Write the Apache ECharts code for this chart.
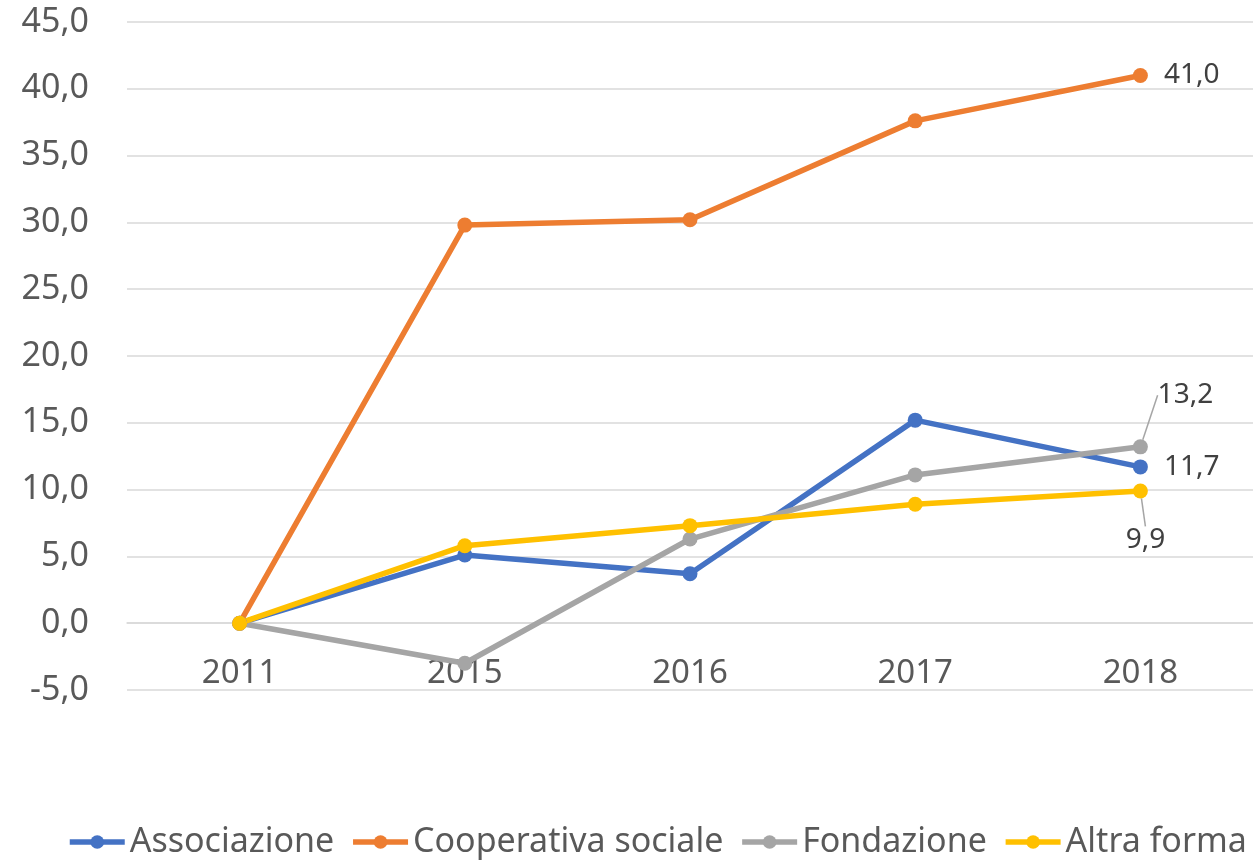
<!DOCTYPE html>
<html>
<head>
<meta charset="utf-8">
<script src="https://cdn.jsdelivr.net/npm/echarts@6/dist/echarts.min.js"></script>
<style>
  html, body { margin: 0; padding: 0; background: #fff; }
  #chart { width: 1253px; height: 862px; }
</style>
</head>
<body>
<div id="chart"></div>
<script>
// anni sull'asse x
const anni = ["2011", "2015", "2016", "2017", "2018"];
// valori per forma giuridica
const associazione = [0, 5.1, 3.7, 15.2, 11.7];
const cooperativa = [0, 29.8, 30.2, 37.6, 41.0];
const fondazione = [0, -3.0, 6.3, 11.1, 13.2];
const altraForma = [0, 5.8, 7.3, 8.9, 9.9];

const fmt = v => Number(v).toFixed(1).replace(".", ",");

// solo l'ultimo punto ha l'etichetta
function conEtichetta(arr, label) {
  return arr.map((v, i) => {
    if (i !== arr.length - 1) return v;
    return { value: v, label: Object.assign({ show: true }, label) };
  });
}

function serie(nome, colore, dati, label, layout, guida) {
  const s = {
    name: nome,
    type: "line",
    data: conEtichetta(dati, label),
    symbol: "circle",
    symbolSize: 15,
    lineStyle: { width: 5.5, color: colore },
    itemStyle: { color: colore },
    label: {
      show: false,
      color: "#404040",
      fontSize: 28,
      fontFamily: "Noto Sans",
      formatter: p => fmt(p.value)
    },
    emphasis: { disabled: true }
  };
  if (layout) s.labelLayout = layout;
  if (guida) s.labelLine = { show: true, lineStyle: { color: "#a5a5a5", width: 1.5 } };
  return s;
}

const chart = echarts.init(document.getElementById("chart"));
const option = {
  animation: false,
  textStyle: { fontFamily: "Noto Sans" },
  grid: { left: 127, right: 0, top: 22, bottom: 172 },
  legend: {
    top: 820,
    left: 62,
    width: 1191,
    itemWidth: 55,
    itemHeight: 17,
    itemGap: 16,
    lineStyle: { width: 5.5 },
    textStyle: { color: "#595959", fontSize: 34, fontFamily: "Noto Sans" },
    data: ["Associazione", "Cooperativa sociale", "Fondazione", "Altra forma"]
  },
  xAxis: {
    type: "category",
    data: anni,
    boundaryGap: true,
    offset: -66.8, // l'asse passa per lo zero
    axisLine: { onZero: false, lineStyle: { color: "#d9d9d9", width: 1.5 } },
    axisTick: { show: false },
    axisLabel: { color: "#595959", fontSize: 33, margin: 34 }
  },
  yAxis: {
    type: "value",
    min: -5,
    max: 45,
    interval: 5,
    axisLine: { show: false },
    axisTick: { show: false },
    splitLine: { lineStyle: { color: "#d9d9d9", width: 1.5 } },
    axisLabel: { color: "#595959", fontSize: 34, margin: 38, formatter: fmt }
  },
  series: [
    serie("Associazione", "#4472c4", associazione, { position: "right", distance: 16 }),
    serie("Cooperativa sociale", "#ed7d31", cooperativa, { position: "right", distance: 16 }),
    serie("Fondazione", "#a5a5a5", fondazione, { position: "top", distance: 10 },
      { dx: 45, dy: -20 }, true),
    serie("Altra forma", "#ffc000", altraForma, { position: "bottom", distance: 10 },
      { dx: 5, dy: 18 }, true)
  ]
};
chart.setOption(option);
</script>
</body>
</html>
